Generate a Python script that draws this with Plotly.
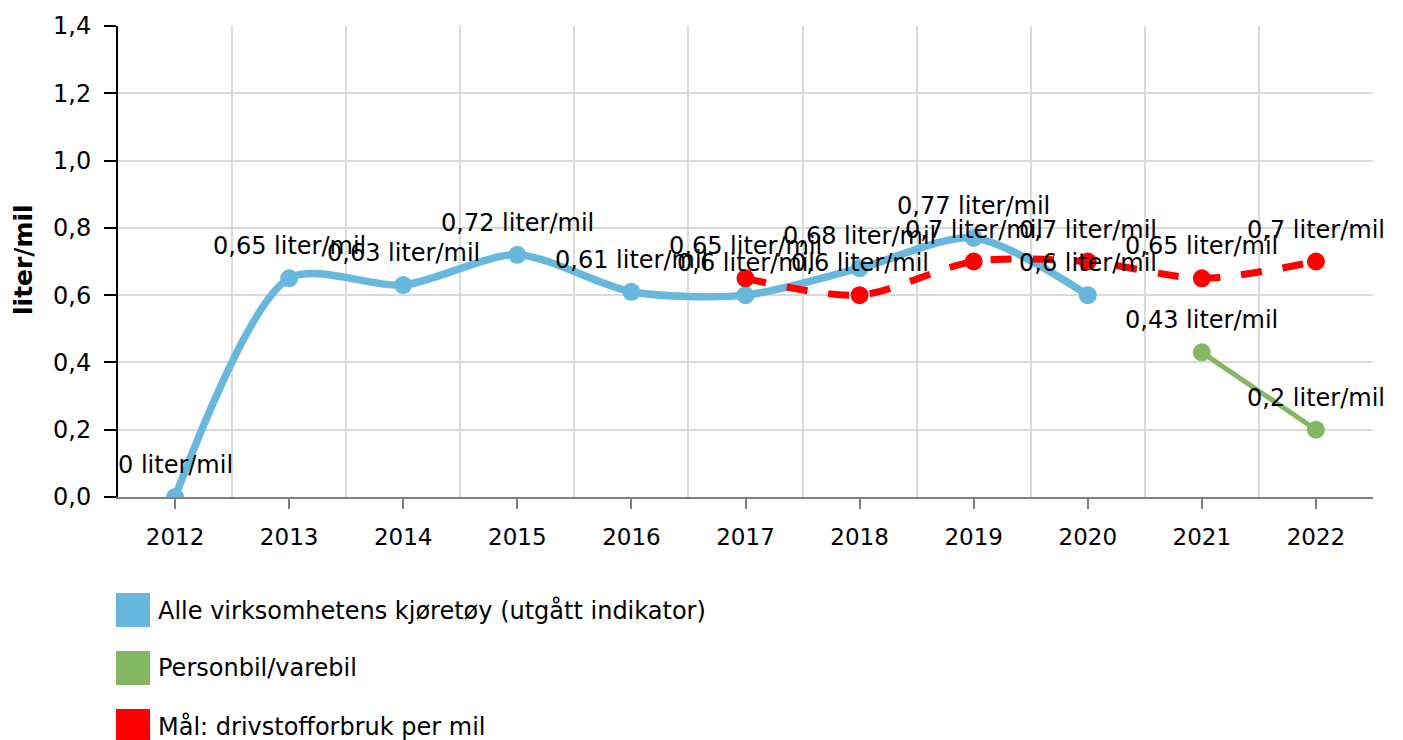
import plotly.graph_objects as go

# ---------------- data ----------------
years = [2012, 2013, 2014, 2015, 2016, 2017, 2018, 2019, 2020, 2021, 2022]
year_labels = ["2012", "2013", "2014", "2015", "2016", "2017", "2018", "2019", "2020", "2021", "2022"]

all_name = "Alle virksomhetens kjøretøy (utgått indikator)"
all_years = [2012, 2013, 2014, 2015, 2016, 2017, 2018, 2019, 2020]
all_values = [0, 0.65, 0.63, 0.72, 0.61, 0.6, 0.68, 0.77, 0.6]

car_name = "Personbil/varebil"
car_years = [2021, 2022]
car_values = [0.43, 0.2]

goal_name = "Mål: drivstofforbruk per mil"
goal_years = [2017, 2018, 2019, 2020, 2021, 2022]
goal_values = [0.65, 0.6, 0.7, 0.7, 0.65, 0.7]

y_ticks = [0, 0.2, 0.4, 0.6, 0.8, 1.0, 1.2, 1.4]
unit = "liter/mil"

# ---------------- style ----------------
FONT = "DejaVu Sans"
BLUE = "#68b7dc"
GREEN = "#84b761"
RED = "#ff0000"
GRID = "#dadada"

OFF = 8  # page body margin of the written html
W, H = 1403 - OFF, 740 - OFF
L, R, T, B = 118 - OFF, 1373 - OFF, 26 - OFF, 497 - OFF


def px(x):
    """page x pixel -> paper coordinate"""
    return (x - OFF - L) / (R - L)


def py(y):
    """page y pixel -> paper coordinate"""
    return (B - (y - OFF)) / (B - T)


def fmt(v):
    return f"{v:g}".replace(".", ",") + " " + unit


fig = go.Figure()

series = [
    (all_name, all_years, all_values, BLUE, dict(width=7.5, shape="spline", smoothing=0.8)),
    (car_name, car_years, car_values, GREEN, dict(width=5)),
    (goal_name, goal_years, goal_values, RED, dict(width=7, dash="dash", shape="spline", smoothing=0.8)),
]

for name, xs, ys, col, line in series:
    fig.add_trace(go.Scatter(
        x=xs, y=ys, name=name, mode="lines+markers",
        line=dict(color=col, **line),
        marker=dict(color=col, size=18),
        showlegend=False,
        hoverinfo="x+y",
    ))

annotations = []
for name, xs, ys, col, line in series:
    for xv, yv in zip(xs, ys):
        annotations.append(dict(
            x=xv, y=yv, xref="x", yref="y", text=fmt(yv), showarrow=False,
            yshift=32, xanchor="center", yanchor="middle",
            font=dict(family=FONT, size=24, color="#000000"),
        ))

# manual legend (large square swatches)
shapes = []
legend_rows = [610, 668, 726]
for (name, xs, ys, col, line), cy in zip(series, legend_rows):
    shapes.append(dict(type="rect", xref="paper", yref="paper",
                       x0=px(116), x1=px(150), y0=py(cy + 17), y1=py(cy - 17),
                       fillcolor=col, line=dict(width=0), layer="above"))
    annotations.append(dict(x=px(156), y=py(cy), xref="paper", yref="paper",
                            text=name, showarrow=False, xanchor="left", yanchor="middle",
                            font=dict(family=FONT, size=24, color="#000000")))

# y-axis title
annotations.append(dict(x=px(23), y=py(260), xref="paper", yref="paper",
                        text="<b>" + unit + "</b>", showarrow=False, textangle=-90,
                        xanchor="center", yanchor="middle",
                        font=dict(family=FONT, size=25, color="#000000")))

fig.update_layout(
    width=W, height=H,
    margin=dict(l=L, r=W - R, t=T, b=H - B, autoexpand=False),
    paper_bgcolor="white", plot_bgcolor="white",
    separators=", ",
    font=dict(family=FONT, size=23, color="#000000"),
    showlegend=False,
    shapes=shapes,
    annotations=annotations,
    xaxis=dict(
        range=[years[0] - 0.5, years[-1] + 0.5],
        tickmode="array", tickvals=years, ticktext=year_labels,
        showgrid=False, zeroline=False,
        showline=True, linecolor="#808080", linewidth=2,
        ticks="outside", ticklen=10, tickcolor="#808080", tickwidth=1.5,
        ticklabelstandoff=8,
        tickfont=dict(family=FONT, size=23, color="#000000"),
        minor=dict(tick0=years[0] - 0.5, dtick=1, showgrid=True, gridcolor=GRID, gridwidth=1.5, ticks=""),
    ),
    yaxis=dict(
        range=[0, 1.4], tickmode="array", tickvals=y_ticks, tickformat=".1f",
        showgrid=True, gridcolor=GRID, gridwidth=1.5, zeroline=False,
        showline=True, linecolor="#000000", linewidth=2,
        ticks="outside", ticklen=12, tickcolor="#000000", tickwidth=1.5,
        ticklabelstandoff=8,
        tickfont=dict(family=FONT, size=24, color="#000000"),
    ),
)

fig.write_html("out.html")
